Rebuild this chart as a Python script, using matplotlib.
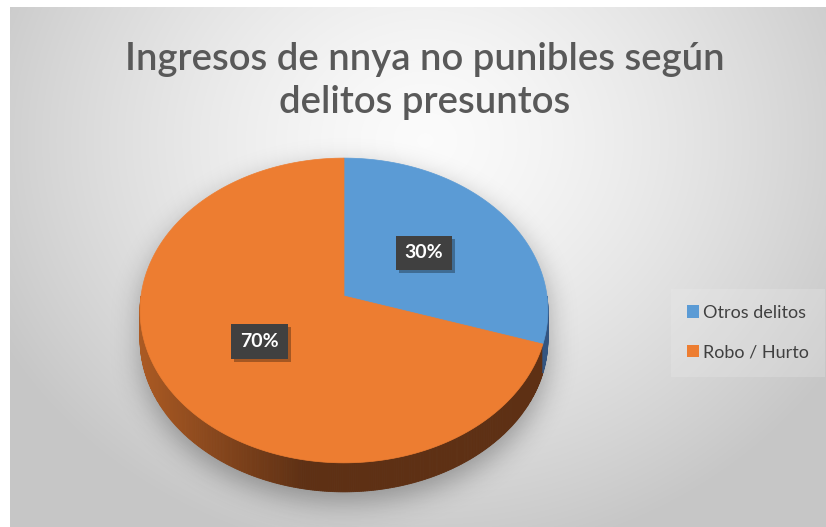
import numpy as np
import matplotlib
matplotlib.use("Agg")
import matplotlib.pyplot as plt
from matplotlib.path import Path
from matplotlib.patches import Polygon, Patch, Rectangle

# data
categories = ["Otros delitos", "Robo / Hurto"]
values = [30, 70]
colors = ["#5b9bd5", "#ed7d31"]
side_dark = {"#5b9bd5": (0.20, 0.33, 0.50), "#ed7d31": (0.37, 0.19, 0.08)}
title = "Ingresos de nnya no punibles según\ndelitos presuntos"

W, H = 826, 527
CX, CY = 344, 296        # pie vertex in pixels
A, B, K = 203, 151, 0.095  # radii + perspective
DEPTH = 29

plt.rcParams["font.family"] = ["Lato", "DejaVu Sans"]

fig = plt.figure(figsize=(W / 100, H / 100), dpi=100)
ax = fig.add_axes([0, 0, 1, 1])
ax.set_xlim(0, W)
ax.set_ylim(H, 0)
ax.axis("off")


def proj(theta, r=1.0):
    u = r * np.cos(theta)
    v = r * np.sin(theta)
    w = 1.0 / (1.0 + K * v)
    return CX + A * u * w, CY - B * v * w


# background gradient of chart area
x0, y0 = 10, 7
yy, xx = np.mgrid[y0:H, x0:W]
d = np.sqrt(((xx - 425) / 480.0) ** 2 + ((yy - 140) / 420.0) ** 2)
d = np.clip(d, 0, 1) ** 1.4
g = 0.985 - (0.985 - 0.78) * d
bg = np.dstack([g, g, g])
ax.imshow(bg, extent=(x0, W, H, y0), zorder=0, interpolation="bilinear")

# shadow under the pie
t = np.linspace(0, 2 * np.pi, 400)
px, py = proj(t)
sil = np.column_stack([px, np.where(py > CY, py + DEPTH, py)])
path = Path(sil)
gy, gx = np.mgrid[0:H, 0:W]
pts = np.column_stack([gx.ravel(), gy.ravel() - 10])
mask = path.contains_points(pts).reshape(H, W).astype(float)
sig = 14
k = np.exp(-0.5 * (np.arange(-3 * sig, 3 * sig + 1) / sig) ** 2)
k /= k.sum()
mask = np.apply_along_axis(lambda m: np.convolve(m, k, mode="same"), 0, mask)
mask = np.apply_along_axis(lambda m: np.convolve(m, k, mode="same"), 1, mask)
shadow = np.zeros((H, W, 4))
shadow[..., 3] = mask * 0.32
ax.imshow(shadow, extent=(0, W, H, 0), zorder=1)

# slice angles (clockwise from 12 o'clock)
frac = np.array(values) / np.sum(values)
bounds = np.pi / 2 - 2 * np.pi * np.concatenate([[0], np.cumsum(frac)])

# sides (front half)
ts = np.linspace(-np.pi, 0, 361)
for a0, a1 in zip(ts[:-1], ts[1:]):
    mid = 0.5 * (a0 + a1)
    idx = 0
    for i in range(len(values)):
        lo, hi = bounds[i + 1], bounds[i]
        if lo <= mid <= hi or lo <= mid + 2 * np.pi <= hi:
            idx = i
    c = colors[idx]
    xa, ya = proj(a0)
    xb, yb = proj(a1)
    tt = np.clip(((xa + xb) / 2 - (CX - A)) / (0.8 * A), 0, 1)
    base = np.array(matplotlib.colors.to_rgb(c))
    dark = np.array(side_dark[c])
    col = base * 0.72 * (1 - tt) + dark * tt
    ax.add_patch(Polygon([[xa, ya], [xb, yb], [xb, yb + DEPTH], [xa, ya + DEPTH]],
                         closed=True, facecolor=col, edgecolor=col, lw=0.6, zorder=2))

# top faces
for i in range(len(values)):
    tw = np.linspace(bounds[i], bounds[i + 1], 200)
    wx, wy = proj(tw)
    verts = np.column_stack([np.r_[CX, wx], np.r_[CY, wy]])
    ax.add_patch(Polygon(verts, closed=True, facecolor=colors[i],
                         edgecolor=colors[i], lw=0.5, zorder=3))

# data labels (dark boxes with a soft drop shadow)
labels = []
for i in range(len(values)):
    mid = 0.5 * (bounds[i] + bounds[i + 1])
    lx, ly = proj(mid, 0.5)
    lab = f"{values[i] / sum(values):.0%}"
    labels.append(ax.text(lx, ly, lab, ha="center", va="center", fontsize=14,
                          fontweight="bold", color="white", zorder=5,
                          bbox=dict(boxstyle="square,pad=0.45", fc="#404040", ec="none")))
fig.canvas.draw()
inv = ax.transData.inverted()
for txt in labels:
    bb = txt.get_bbox_patch().get_window_extent()
    (bx0, by0), (bx1, by1) = inv.transform([[bb.x0, bb.y0], [bb.x1, bb.y1]])
    ax.add_patch(Rectangle((bx0 + 3, by1 + 3), bx1 - bx0, by0 - by1,
                           facecolor=(0, 0, 0, 0.3), edgecolor="none", zorder=4))

# title
ax.text(425, 81, title, ha="center", va="center", fontsize=27.5,
        fontweight="semibold", color="#595959", linespacing=1.3, zorder=6)

# legend
handles = [Patch(facecolor=c, edgecolor="none") for c in colors]
leg = ax.legend(handles, categories, loc="upper left",
                bbox_to_anchor=(676, 294), bbox_transform=ax.transData,
                fontsize=13, frameon=True, handlelength=0.65, handleheight=0.65,
                handletextpad=0.25, labelspacing=1.3, borderpad=0.6,
                borderaxespad=0)
leg.get_frame().set_facecolor("#eeeeee")
leg.get_frame().set_alpha(0.25)
leg.get_frame().set_edgecolor("none")
leg.get_frame().set_boxstyle("square")
for txt in leg.get_texts():
    txt.set_color("#404040")

fig.savefig("out.png", dpi=100, facecolor="white")
